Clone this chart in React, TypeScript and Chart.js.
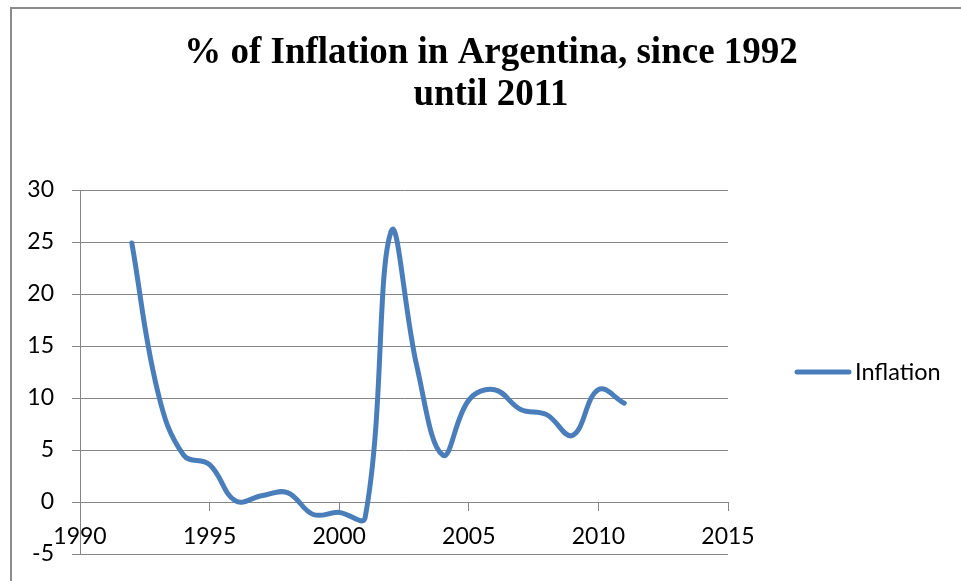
import React, { useEffect, useRef } from "react";
import { Chart, registerables } from "chart.js";

Chart.register(...registerables);

// Annual consumer price inflation, Argentina (%)
const years = [
  1992, 1993, 1994, 1995, 1996, 1997, 1998, 1999, 2000, 2001,
  2002, 2003, 2004, 2005, 2006, 2007, 2008, 2009, 2010, 2011,
];
const inflation = [
  24.9, 10.6, 4.5, 3.6, 0.1, 0.6, 0.9, -1.2, -1.0, -1.5,
  26.0, 13.0, 4.5, 9.8, 10.8, 8.9, 8.4, 6.4, 10.8, 9.5,
];

const seriesName = "Inflation";
const titleLines = ["% of Inflation in Argentina, since 1992", "until 2011"];

const xMin = 1990;
const xMax = 2015;
const xStep = 5;
const yMin = -5;
const yMax = 30;
const yStep = 5;

const LINE_COLOR = "#4A7EBB";
const GRID_COLOR = "#868686";
const LABEL_FONT = "Lato";
const TICK_LEN = 8;

// Frame around the chart, title, bottom gridline and the series key on the right
const decorations = {
  id: "decorations",
  beforeDraw(chart: Chart) {
    const ctx = chart.ctx;
    ctx.save();
    ctx.fillStyle = "#ffffff";
    ctx.fillRect(0, 0, chart.width, chart.height);
    ctx.strokeStyle = "#8c8c8c";
    ctx.lineWidth = 2;
    ctx.beginPath();
    ctx.moveTo(11, chart.height);
    ctx.lineTo(11, 8);
    ctx.lineTo(chart.width, 8);
    ctx.stroke();
    ctx.restore();
  },
  beforeDatasetsDraw(chart: Chart) {
    // gridline at the lowest y value, with its tick mark (same pixel snapping as the grid)
    const ctx = chart.ctx;
    const yScale = chart.scales.y;
    const area = chart.chartArea;
    const py = Math.round(yScale.getPixelForValue(yMin) - 0.5) + 0.5;
    ctx.save();
    ctx.strokeStyle = GRID_COLOR;
    ctx.lineWidth = 1;
    ctx.beginPath();
    ctx.moveTo(area.left - TICK_LEN, py);
    ctx.lineTo(area.right, py);
    ctx.stroke();
    ctx.restore();
  },
  afterDraw(chart: Chart) {
    const ctx = chart.ctx;
    ctx.save();
    // title
    ctx.fillStyle = "#000";
    ctx.textAlign = "center";
    ctx.textBaseline = "alphabetic";
    ctx.font = "bold 37px 'Liberation Serif', 'Times New Roman', serif";
    ctx.fillText(titleLines[0], 491, 63);
    ctx.fillText(titleLines[1], 491, 105);

    // series key
    const ds = chart.data.datasets[0];
    ctx.strokeStyle = (ds.borderColor as string) || LINE_COLOR;
    ctx.lineWidth = 5;
    ctx.lineCap = "round";
    ctx.beginPath();
    ctx.moveTo(797, 372);
    ctx.lineTo(849, 372);
    ctx.stroke();
    ctx.fillStyle = "#000";
    ctx.textAlign = "left";
    ctx.textBaseline = "middle";
    ctx.font = `23.5px ${LABEL_FONT}`;
    ctx.fillText(String(ds.label), 855, 372);
    ctx.restore();
  },
};

export default function App() {
  const canvasRef = useRef<HTMLCanvasElement | null>(null);

  useEffect(() => {
    const canvas = canvasRef.current;
    if (!canvas) return;
    const chart = new Chart(canvas, {
      type: "line",
      data: {
        datasets: [
          {
            label: seriesName,
            data: years.map((y, i) => ({ x: y, y: inflation[i] })),
            borderColor: LINE_COLOR,
            backgroundColor: LINE_COLOR,
            borderWidth: 5,
            borderCapStyle: "round",
            borderJoinStyle: "round",
            pointRadius: 0,
            tension: 0.4,
            fill: false,
          },
        ],
      },
      options: {
        responsive: false,
        animation: false,
        events: [],
        layout: { padding: { top: 190, bottom: 27, left: 0, right: 233 } },
        plugins: {
          legend: { display: false },
          title: { display: false },
          tooltip: { enabled: false },
        },
        scales: {
          x: {
            type: "linear",
            min: xMin,
            max: xMax,
            position: { y: 0 },
            ticks: {
              stepSize: xStep,
              autoSkip: false,
              maxRotation: 0,
              color: "#000",
              padding: 13,
              font: { family: LABEL_FONT, size: 23 },
              callback: (v: any) => String(v),
            },
            grid: {
              drawOnChartArea: false,
              drawTicks: true,
              tickLength: TICK_LEN,
              color: GRID_COLOR,
            },
            border: { display: true, color: GRID_COLOR },
          },
          y: {
            type: "linear",
            min: yMin,
            max: yMax,
            ticks: {
              stepSize: yStep,
              color: "#000",
              padding: 18,
              font: { family: LABEL_FONT, size: 23 },
            },
            grid: { color: GRID_COLOR, tickLength: TICK_LEN, drawTicks: true },
            border: { display: true, color: GRID_COLOR },
            afterFit: (scale: any) => {
              scale.width = 80;
              // labels may overhang the plot edges; keep the plot box fixed
              scale.paddingTop = 0;
              scale.paddingBottom = 0;
            },
          },
        },
      },
      plugins: [decorations],
    });
    return () => chart.destroy();
  }, []);

  return (
    <div style={{ position: "fixed", left: 0, top: 0, width: 961, height: 581, background: "#fff" }}>
      <canvas ref={canvasRef} width={961} height={581} style={{ display: "block" }} />
    </div>
  );
}
